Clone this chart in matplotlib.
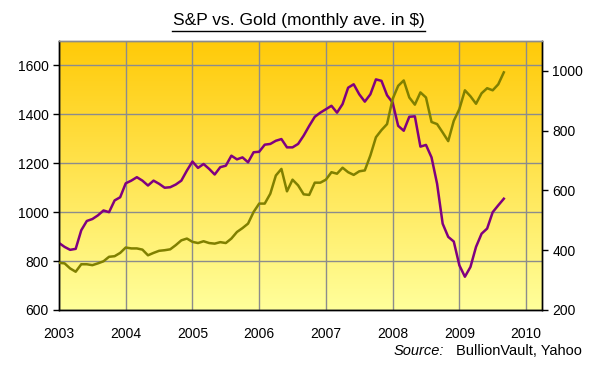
import numpy as np
import matplotlib
matplotlib.use('Agg')
import matplotlib.pyplot as plt

plt.rcParams['font.family'] = ['Liberation Sans', 'DejaVu Sans']

# Monthly averages, Jan 2003 .. Sep 2009
start_year = 2003
sp500 = [874, 858, 846, 850, 926, 964, 972, 987, 1007, 1000, 1048, 1061,
         1118, 1129, 1143, 1129, 1109, 1129, 1116, 1100, 1102, 1113, 1129, 1170,
         1207, 1181, 1197, 1177, 1154, 1184, 1190, 1231, 1216, 1224, 1204, 1245,
         1247, 1276, 1279, 1292, 1299, 1265, 1265, 1279, 1313, 1353, 1390, 1407,
         1421, 1435, 1407, 1442, 1509, 1523, 1482, 1452, 1482, 1543, 1537, 1478,
         1448, 1353, 1333, 1390, 1392, 1268, 1275, 1224, 1116, 953, 899, 880,
         783, 736, 776, 858, 912, 933, 1000, 1028, 1055]
gold = [358, 356, 339, 328, 353, 353, 350, 356, 363, 378, 380, 391,
        409, 406, 406, 402, 383, 391, 398, 400, 403, 417, 433, 439,
        428, 424, 430, 424, 422, 427, 424, 439, 461, 474, 489, 528,
        556, 556, 589, 650, 672, 597, 636, 617, 587, 585, 626, 626,
        636, 661, 656, 676, 661, 652, 664, 667, 717, 778, 802, 822,
        906, 950, 968, 911, 887, 928, 911, 829, 822, 794, 765, 833,
        872, 935, 915, 890, 925, 942, 935, 955, 995]
year_ticks = list(range(2003, 2011))
sp_ticks = [600, 800, 1000, 1200, 1400, 1600]
gold_ticks = [200, 400, 600, 800, 1000]

dates = start_year + np.arange(len(sp500)) / 12.0

fig = plt.figure(figsize=(6.09, 3.65), dpi=100)
fig.patch.set_facecolor('white')
ax = fig.add_axes([0.0969, 0.1507, 0.7932, 0.7370])
ax2 = ax.twinx()

xlim = (2003, 2010.24)
ylim = (600, 1700)

# background gradient, orange at the top to pale yellow at the bottom
grad = np.linspace(0, 1, 256).reshape(-1, 1)
top = np.array([255, 202, 8]) / 255.0
bot = np.array([255, 255, 155]) / 255.0
img = top + (bot - top) * grad[:, :, None]
ax.imshow(img, extent=[xlim[0], xlim[1], ylim[0], ylim[1]], aspect='auto',
          origin='upper', zorder=0)

ax.set_xlim(*xlim)
ax.set_ylim(*ylim)
ax2.set_ylim(200, 1100)

ax.set_xticks(year_ticks)
ax.set_yticks(sp_ticks)
ax2.set_yticks(gold_ticks)
ax.set_axisbelow(True)
ax.grid(True, color='#8c8c8c', linewidth=1.0)

ax.plot(dates, sp500, color='#800080', linewidth=1.8, zorder=3)
ax2.plot(dates, gold, color='#808000', linewidth=1.8, zorder=3)

for a in (ax, ax2):
    for s in a.spines.values():
        s.set_color('black')
        s.set_linewidth(1.0)
    a.spines['top'].set_color('#8c8c8c')
ax.tick_params(axis='x', length=0, labelsize=10, pad=12)
ax.tick_params(axis='y', length=4, width=1, labelsize=10, direction='out')
ax2.tick_params(axis='y', length=4, width=1, labelsize=10, direction='out')

fig.text(0.49, 0.944, 'S&P vs. Gold (monthly ave. in $)', ha='center',
         va='center', fontsize=12.5)
fig.add_artist(plt.Line2D([0.282, 0.698], [0.915, 0.915], color='black',
                          linewidth=1.0))
fig.text(0.956, 0.038, 'BullionVault, Yahoo', ha='right', va='center',
         fontsize=10.5)
fig.text(0.73, 0.038, 'Source:', ha='right', va='center', fontsize=10.5,
         style='italic')

fig.savefig('out.png', dpi=100)
